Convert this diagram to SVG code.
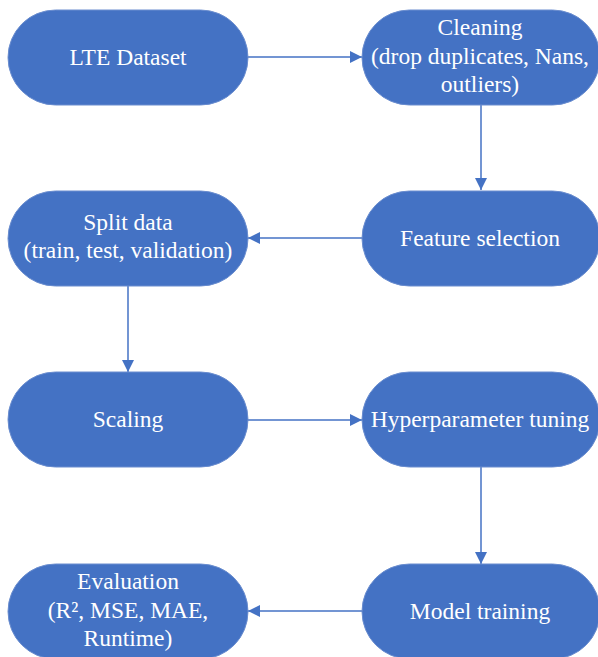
<svg xmlns="http://www.w3.org/2000/svg" width="598" height="657" viewBox="0 0 598 657">
<style>
.node rect{fill:#4472C4;stroke:#6A8DCF;stroke-width:1}
.node text{fill:#FFFFFF;font-family:"Liberation Serif","Times New Roman",serif;font-size:23.5px;text-anchor:middle}
.conn line{stroke:#4472C4;stroke-width:1.5;fill:none}
</style>
<defs>
<marker id="arr" viewBox="0 0 12 12" refX="12" refY="6" markerWidth="12" markerHeight="12" markerUnits="userSpaceOnUse" orient="auto">
<path d="M0,0 L12,6 L0,12 Z" fill="#4472C4"/>
</marker>
</defs>
<rect width="598" height="657" fill="#FFFFFF"/>
<g id="connectors" class="conn">
<line x1="248" y1="57" x2="362" y2="57" marker-end="url(#arr)"/>
<line x1="481" y1="105" x2="481" y2="190" marker-end="url(#arr)"/>
<line x1="362" y1="238" x2="248" y2="238" marker-end="url(#arr)"/>
<line x1="128" y1="285" x2="128" y2="372" marker-end="url(#arr)"/>
<line x1="248" y1="420" x2="362" y2="420" marker-end="url(#arr)"/>
<line x1="481" y1="467" x2="481" y2="564" marker-end="url(#arr)"/>
<line x1="362" y1="611" x2="248" y2="611" marker-end="url(#arr)"/>
</g>
<g id="n1" class="node">
<rect x="8" y="10" width="240" height="95" rx="47.5"/>
<text x="128" y="65">LTE Dataset</text>
</g>
<g id="n2" class="node">
<rect x="362" y="10" width="238" height="95" rx="47.5"/>
<text x="480" y="35">Cleaning</text>
<text x="480" y="64">(drop duplicates, Nans,</text>
<text x="480" y="92">outliers)</text>
</g>
<g id="n3" class="node">
<rect x="362" y="191" width="238" height="95" rx="47.5"/>
<text x="480" y="246">Feature selection</text>
</g>
<g id="n4" class="node">
<rect x="8" y="191" width="240" height="95" rx="47.5"/>
<text x="128" y="230">Split data</text>
<text x="128" y="258">(train, test, validation)</text>
</g>
<g id="n5" class="node">
<rect x="8" y="372" width="240" height="95" rx="47.5"/>
<text x="128" y="427">Scaling</text>
</g>
<g id="n6" class="node">
<rect x="362" y="372" width="238" height="95" rx="47.5"/>
<text x="480" y="427">Hyperparameter tuning</text>
</g>
<g id="n7" class="node">
<rect x="362" y="564" width="238" height="95" rx="47.5"/>
<text x="480" y="619">Model training</text>
</g>
<g id="n8" class="node">
<rect x="8" y="564" width="240" height="95" rx="47.5"/>
<text x="128" y="589">Evaluation</text>
<text x="128" y="618">(R², MSE, MAE,</text>
<text x="128" y="646">Runtime)</text>
</g>
</svg>
